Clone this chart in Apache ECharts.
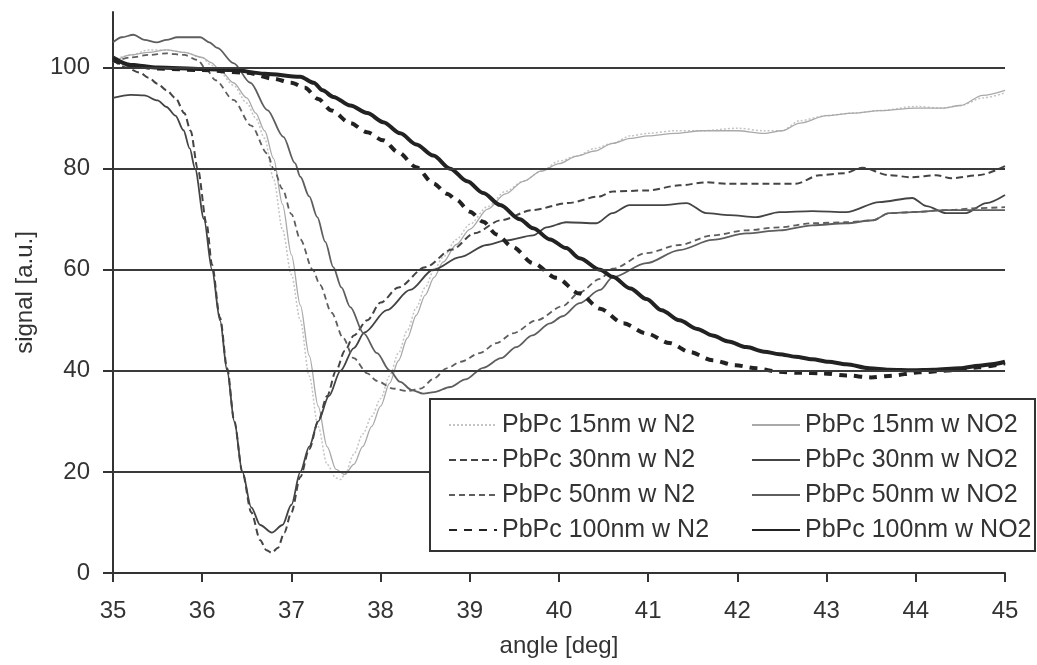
<!DOCTYPE html>
<html>
<head>
<meta charset="utf-8">
<title>signal vs angle</title>
<script src="https://cdn.jsdelivr.net/npm/echarts@6/dist/echarts.min.js"></script>
<style>
  html, body { margin: 0; padding: 0; background: #fff; }
  #main { width: 1037px; height: 665px; }
</style>
</head>
<body>
<div id="main"></div>
<script>
// values: [angle (deg), signal (a.u.)]
var yTicks = [0, 20, 40, 60, 80, 100];

var pb15N2 = [[35.0,101.5],[35.2,102.5],[35.4,103.5],[35.6,103.5],[35.8,103],[36.0,102],[36.1,100.5],[36.2,99],[36.35,96.5],[36.5,93],[36.6,90],[36.7,86],[36.8,78],[36.9,68],[37.0,59],[37.1,50],[37.2,39],[37.3,29],[37.4,21.5],[37.5,18.8],[37.55,18.5],[37.6,19.5],[37.7,23.5],[37.8,27.5],[37.9,31],[38.0,34.5],[38.1,39],[38.2,43.5],[38.3,48],[38.4,52.5],[38.5,56.5],[38.6,60],[38.7,62.5],[38.85,66],[39.0,69],[39.2,72.5],[39.4,75.5],[39.6,77.5],[39.8,79.5],[40.0,81.5],[40.2,82.5],[40.4,84],[40.6,85],[40.8,86.5],[41.0,87],[41.3,87.5],[41.6,87.5],[42.0,88],[42.3,87.5],[42.5,87.5],[42.7,89.5],[43.0,90.5],[43.3,91],[43.6,91.5],[44.0,92.3],[44.3,92],[44.5,92.5],[44.75,94],[45.0,95]];
var pb15NO2 = [[35.0,101],[35.2,102.5],[35.4,103],[35.6,103.5],[35.8,103],[36.0,102],[36.1,101],[36.2,99.5],[36.35,97],[36.5,94],[36.6,91],[36.7,87.5],[36.8,82],[36.9,73],[37.0,63],[37.1,53],[37.2,43],[37.3,33],[37.4,25],[37.5,20.5],[37.6,19.5],[37.7,21.5],[37.8,25],[37.9,29],[38.0,33],[38.1,37.5],[38.2,42],[38.3,46.5],[38.4,51],[38.5,55],[38.6,58.5],[38.7,61.5],[38.85,65],[39.0,68],[39.2,72],[39.4,75],[39.6,77.5],[39.8,79.5],[40.0,81],[40.2,82.5],[40.4,83.5],[40.6,85],[40.8,86],[41.0,86.5],[41.3,87],[41.6,87.5],[42.0,87.5],[42.3,87],[42.5,87.5],[42.7,89],[43.0,90.5],[43.3,91],[43.6,91.5],[44.0,92],[44.3,92],[44.5,92.5],[44.75,94.5],[45.0,95.5]];

var pb30N2 = [[35.0,101.5],[35.15,100],[35.3,99],[35.4,98],[35.5,96.8],[35.6,95.5],[35.7,94],[35.8,91],[35.87,87.5],[35.95,80],[36.05,69],[36.11,61],[36.2,50.5],[36.28,40.5],[36.36,30],[36.45,20],[36.55,12],[36.65,6.5],[36.72,4.5],[36.78,4],[36.85,5],[36.92,8],[37.0,12],[37.1,19],[37.2,24.5],[37.3,30],[37.4,35],[37.5,40],[37.6,44],[37.7,47],[37.85,50],[38.0,53.5],[38.2,56.5],[38.5,60.5],[38.8,64],[39.05,67.2],[39.35,69.8],[39.7,71.8],[40.1,73.2],[40.45,74.5],[40.6,75.5],[41.0,75.7],[41.35,76.7],[41.65,77.3],[41.9,77],[42.3,77],[42.65,77],[42.92,78.7],[43.2,79.1],[43.4,80.2],[43.7,78.7],[43.96,78.3],[44.23,78.7],[44.4,78.1],[44.7,78.7],[45.0,80.5]];
var pb30NO2 = [[35.0,94],[35.2,94.6],[35.35,94.5],[35.5,93.5],[35.6,92.2],[35.7,90.5],[35.79,87.6],[35.86,84],[35.92,80],[36.02,70],[36.11,60],[36.2,50],[36.28,40],[36.36,30],[36.45,20],[36.55,13],[36.65,9.5],[36.78,8],[36.9,9.5],[37.0,13.5],[37.1,20],[37.2,25],[37.3,30],[37.42,35],[37.55,40],[37.7,44.5],[37.82,47.6],[38.07,52],[38.33,56],[38.59,60],[38.89,62.5],[39.19,64.9],[39.41,65.8],[39.71,66.8],[39.86,68.4],[40.08,69.4],[40.42,69.2],[40.6,71.2],[40.79,72.8],[41.16,72.8],[41.43,73.2],[41.65,71.2],[41.91,70.8],[42.21,70.4],[42.47,71.4],[42.84,71.6],[43.22,71.4],[43.59,73.4],[43.96,74.2],[44.12,72.6],[44.34,71.2],[44.56,71.2],[44.79,73.2],[45.0,74.8]];

var pb50N2 = [[35.0,101],[35.2,102],[35.4,102.5],[35.6,102.8],[35.8,102.5],[35.95,101.5],[36.05,99.5],[36.15,97.5],[36.35,93.6],[36.55,88.5],[36.73,83],[36.8,80],[36.9,76],[37.0,71],[37.1,66],[37.24,60],[37.32,57],[37.45,51.5],[37.58,46.5],[37.7,42.5],[37.85,39.5],[37.96,38],[38.14,36.5],[38.3,36],[38.45,36.5],[38.6,38.5],[38.74,40.5],[38.9,41.8],[39.11,43.5],[39.3,45.5],[39.48,47.4],[39.75,50],[40.04,52.8],[40.23,55.5],[40.46,58.2],[40.6,60.2],[40.98,63.3],[41.35,64.9],[41.72,66.8],[42.1,67.8],[42.47,68.4],[42.84,69.2],[43.22,69.4],[43.52,69.8],[43.7,71.2],[43.96,71.4],[44.34,71.8],[44.71,72.2],[45.0,72.4]];
var pb50NO2 = [[35.0,105],[35.1,106],[35.23,106.5],[35.35,105.5],[35.49,105],[35.6,105.5],[35.72,106],[35.98,106],[36.08,105],[36.17,103.9],[36.35,100.9],[36.54,97],[36.73,91.6],[36.91,86.3],[37.04,81.1],[37.1,78.4],[37.2,74.5],[37.29,70.4],[37.38,65.5],[37.47,60.5],[37.56,56.5],[37.66,52.6],[37.81,47.4],[37.96,43.5],[38.1,40.1],[38.22,37.8],[38.35,36.2],[38.48,35.5],[38.6,35.8],[38.78,36.8],[38.95,38.3],[39.15,40.6],[39.35,42.5],[39.52,44.7],[39.7,47],[39.9,49.4],[40.04,50.8],[40.23,53.4],[40.46,56],[40.6,58.5],[40.98,61.3],[41.35,63.9],[41.72,65.9],[42.1,67.2],[42.47,67.8],[42.84,68.8],[43.22,69.2],[43.52,69.8],[43.7,71.2],[43.96,71.4],[44.34,71.8],[44.71,71.8],[45.0,71.8]];

var pb100N2 = [[35.0,101.5],[35.2,100.5],[35.5,99.8],[36.0,99.5],[36.5,99],[36.8,97.8],[37.0,97],[37.15,96],[37.3,93.8],[37.45,91.5],[37.66,89],[37.85,87.2],[38.03,85.6],[38.2,83.2],[38.4,80.3],[38.59,77.1],[38.75,75],[38.85,73.8],[39.0,71.5],[39.15,69.5],[39.3,67],[39.48,64.5],[39.71,61.3],[39.97,58.4],[40.23,55.3],[40.46,52.3],[40.72,49.4],[40.98,47.4],[41.24,45.5],[41.47,43.7],[41.72,42.1],[41.98,41.1],[42.21,40.5],[42.47,39.8],[42.7,39.6],[42.96,39.5],[43.22,39.1],[43.5,38.7],[43.7,39],[44.04,39.7],[44.41,40.1],[44.71,40.7],[45.0,41.5]];
var pb100NO2 = [[35.0,102],[35.2,100.5],[35.5,100],[36.0,99.7],[36.35,99.5],[36.7,98.8],[37.1,98.2],[37.25,97],[37.35,95.5],[37.47,94.2],[37.66,92.5],[37.85,91],[38.03,89.2],[38.22,87],[38.4,84.8],[38.59,82.6],[38.78,80],[38.97,77.5],[39.15,75.2],[39.34,72.8],[39.56,70],[39.71,68.2],[39.9,66],[40.08,64.3],[40.23,62.3],[40.46,60],[40.6,58.6],[40.8,56.3],[40.98,54.2],[41.15,52],[41.35,50],[41.55,48.3],[41.72,47],[41.9,45.8],[42.1,44.7],[42.3,43.8],[42.47,43.3],[42.65,42.8],[42.84,42.3],[43.02,41.8],[43.22,41.3],[43.48,40.5],[43.7,40.2],[43.96,40.1],[44.2,40.2],[44.49,40.5],[44.71,41],[44.85,41.3],[45.0,41.8]];

var namesN2 = ['PbPc 15nm w N2', 'PbPc 30nm w N2', 'PbPc 50nm w N2', 'PbPc 100nm w N2'];
var namesNO2 = ['PbPc 15nm w NO2', 'PbPc 30nm w NO2', 'PbPc 50nm w NO2', 'PbPc 100nm w NO2'];

var FONT = '"Liberation Sans", Arial, sans-serif';
var INK = '#333';

function curve(name, data, color, width, type) {
    return {
        name: name,
        type: 'line',
        data: data,
        symbol: 'none',
        smooth: 0.3,
        smoothMonotone: 'x',
        z: 3,
        lineStyle: { color: color, width: width, type: type },
        itemStyle: { color: color }
    };
}

function legendCol(names, left) {
    return {
        data: names,
        orient: 'vertical',
        left: left, top: 405,
        itemWidth: 48, itemHeight: 14, itemGap: 5,
        itemStyle: { opacity: 0 },   // line only, no marker dot
        textStyle: { fontSize: 25, lineHeight: 30, color: INK, fontFamily: FONT },
        z: 10
    };
}

var chart = echarts.init(document.getElementById('main'));

chart.setOption({
    backgroundColor: '#fff',
    animation: false,
    textStyle: { fontFamily: FONT },
    grid: { left: 113, right: 32, top: 12, bottom: 92 },
    xAxis: {
        type: 'value',
        min: 35, max: 45, interval: 1,
        name: 'angle [deg]',
        nameLocation: 'middle',
        nameGap: 61,
        nameTextStyle: { fontSize: 24, color: INK, fontFamily: FONT },
        axisLine: { onZero: false, lineStyle: { color: INK, width: 2 } },
        axisTick: { length: 9, lineStyle: { color: INK, width: 2 } },
        axisLabel: { fontSize: 24, color: INK, margin: 26, fontFamily: FONT },
        splitLine: { show: false }
    },
    yAxis: {
        type: 'value',
        min: 0, max: 111,
        name: 'signal [a.u.]',
        nameLocation: 'middle',
        nameGap: 76,
        nameTextStyle: { fontSize: 24, color: INK, fontFamily: FONT },
        axisLine: { show: true, lineStyle: { color: INK, width: 2 } },
        axisTick: { length: 10, customValues: yTicks, lineStyle: { color: INK, width: 2 } },
        axisLabel: { fontSize: 24, color: INK, margin: 23, customValues: yTicks, fontFamily: FONT },
        splitLine: { show: false }
    },
    legend: [legendCol(namesN2, 443), legendCol(namesNO2, 746)],
    graphic: [{
        type: 'rect',
        z: 8,
        shape: { x: 430, y: 399, width: 605, height: 152 },
        style: { fill: '#fff', stroke: INK, lineWidth: 2 }
    }],
    series: [
        // horizontal grid lines
        {
            name: 'grid',
            type: 'line',
            data: [],
            z: 1,
            markLine: {
                silent: true,
                symbol: 'none',
                label: { show: false },
                lineStyle: { color: '#3a3a3a', width: 2, type: 'solid' },
                data: yTicks.slice(1).map(function (v) { return { yAxis: v }; })
            }
        },
        curve(namesN2[0], pb15N2, '#c4c4c4', 1.5, [2, 2]),
        curve(namesNO2[0], pb15NO2, '#a9a9a9', 1.3, 'solid'),
        curve(namesN2[1], pb30N2, '#444', 2, [7, 4]),
        curve(namesNO2[1], pb30NO2, '#444', 1.8, 'solid'),
        curve(namesN2[2], pb50N2, '#5e5e5e', 1.8, [6, 4]),
        curve(namesNO2[2], pb50NO2, '#5e5e5e', 1.8, 'solid'),
        curve(namesN2[3], pb100N2, '#222', 4, [8, 7]),
        curve(namesNO2[3], pb100NO2, '#222', 4, 'solid')
    ]
});
</script>
</body>
</html>
